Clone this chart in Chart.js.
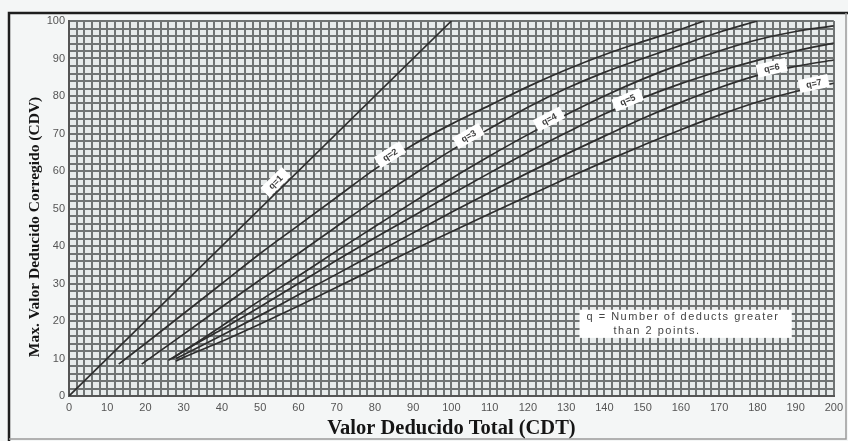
<!DOCTYPE html>
<html>
<head>
<meta charset="utf-8">
<script src="https://cdn.jsdelivr.net/npm/chart.js@4/dist/chart.umd.min.js"></script>
<style>
  html, body { margin: 0; padding: 0; background: #f4f6f6; }
  canvas { display: block; }
</style>
</head>
<body>
<canvas id="c" width="848" height="441"></canvas>
<script>
// ---- Data ----
const q1X = [0, 100];
const q1Y = [0, 100];

const q2X = [13, 20, 30, 40, 50, 60, 70, 80, 90, 100, 110, 120, 130, 140, 150, 160, 166];
const q2Y = [8.5, 14, 22, 30, 38, 45.5, 53, 60.5, 67, 72.5, 77.5, 82.5, 87, 91, 94.5, 97.8, 100];

const q3X = [19, 30, 40, 50, 60, 70, 80, 90, 100, 110, 120, 130, 140, 150, 160, 170, 180];
const q3Y = [8.5, 16.5, 23.8, 31, 38, 45.2, 52.3, 59, 65.5, 71.3, 77, 82, 86.3, 90, 93.5, 97, 100];

const q4X = [26, 30, 40, 50, 60, 70, 80, 90, 100, 110, 120, 130, 140, 150, 160, 170, 180, 190, 200];
const q4Y = [9.5, 12, 18.7, 25.5, 32, 38.7, 45.2, 51.7, 58, 64, 69.7, 75, 80, 84.5, 88.5, 92, 95, 97.2, 98.7];

const q5X = [27, 30, 40, 50, 60, 70, 80, 90, 100, 110, 120, 130, 140, 150, 160, 170, 180, 190, 200];
const q5Y = [10, 12, 17.8, 23.8, 30, 36.2, 42.2, 48, 53.8, 59.5, 65, 70.2, 75.2, 79.5, 83.3, 86.6, 89.5, 92, 94.1];

const q6X = [28, 30, 40, 50, 60, 70, 80, 90, 100, 110, 120, 130, 140, 150, 160, 170, 180, 190, 200];
const q6Y = [10, 11, 16.2, 21.5, 27, 32.5, 38, 43.5, 49, 54.3, 59.5, 64.5, 69.3, 74, 78.3, 82.2, 85.5, 87.9, 89.6];

const q7X = [28, 30, 40, 50, 60, 70, 80, 90, 100, 110, 120, 130, 140, 150, 160, 170, 180, 190, 200];
const q7Y = [9.3, 10.3, 14.6, 19.2, 24, 29, 34, 39, 43.8, 48.6, 53.3, 58, 62.5, 66.8, 71, 74.9, 78.4, 81.2, 83.4];

const seriesNames = ['q=1', 'q=2', 'q=3', 'q=4', 'q=5', 'q=6', 'q=7'];
const labelAtX = [55.5, 84.5, 105, 126, 146.5, 184, 195];   // where each curve's tag sits (TDV)
const labelLift = [8, 4, 4, 4, 4, 4, 4];                    // px above the curve

const xTickStep = 2, yTickStep = 2, labelEvery = 10;
const xTitle = 'Valor Deducido Total (CDT)';
const yTitle = 'Max. Valor Deducido Corregido (CDV)';
const noteLines = ['q = Number of deducts greater', 'than 2 points.'];
const noteBox = { x0: 133.5, x1: 189, y0: 23, y1: 15.5 };

// ---- build datasets ----
const xs = [q1X, q2X, q3X, q4X, q5X, q6X, q7X];
const ys = [q1Y, q2Y, q3Y, q4Y, q5Y, q6Y, q7Y];
const datasets = xs.map((xa, i) => ({
  label: seriesNames[i],
  data: xa.map((x, j) => ({ x: x, y: ys[i][j] })),
  showLine: true,
  borderColor: '#2e2e2e',
  borderWidth: 1.7,
  pointRadius: 0,
  cubicInterpolationMode: 'monotone',
  fill: false
}));

function interpY(xa, ya, x) {
  for (let j = 0; j < xa.length - 1; j++) {
    if (x >= xa[j] && x <= xa[j + 1]) {
      const t = (x - xa[j]) / (xa[j + 1] - xa[j]);
      return ya[j] + t * (ya[j + 1] - ya[j]);
    }
  }
  return ya[ya.length - 1];
}

const bgPlugin = {
  id: 'bg',
  beforeDraw(chart) {
    const { ctx, chartArea: a } = chart;
    ctx.save();
    ctx.fillStyle = '#f4f6f6';
    ctx.fillRect(0, 0, chart.width, chart.height);
    ctx.fillStyle = '#e7ebeb';
    ctx.fillRect(a.left, a.top, a.right - a.left, a.bottom - a.top);
    // outer frame
    ctx.strokeStyle = '#1e1e1e';
    ctx.lineWidth = 2.5;
    ctx.beginPath();
    ctx.moveTo(9, 441); ctx.lineTo(9, 13); ctx.lineTo(848, 13);
    ctx.stroke();
    ctx.strokeStyle = '#9a9a9a';
    ctx.lineWidth = 1.5;
    ctx.beginPath();
    ctx.moveTo(846, 13); ctx.lineTo(846, 439); ctx.lineTo(9, 439);
    ctx.stroke();
    ctx.restore();
  },
  afterDraw(chart) {
    const { ctx, chartArea: a } = chart;
    ctx.save();
    ctx.translate(35, 227);
    ctx.rotate(-Math.PI / 2);
    ctx.fillStyle = '#151515';
    ctx.font = 'bold 15.5px "Liberation Serif", "Times New Roman", serif';
    ctx.textAlign = 'center';
    ctx.textBaseline = 'middle';
    ctx.fillText(yTitle, 0, 0);
    ctx.restore();
  }
};

const tagPlugin = {
  id: 'tags',
  afterDatasetsDraw(chart) {
    const { ctx, scales: { x: sx, y: sy } } = chart;
    ctx.save();
    xs.forEach((xa, i) => {
      const lx = labelAtX[i];
      const ly = interpY(xa, ys[i], lx);
      const px = sx.getPixelForValue(lx), py = sy.getPixelForValue(ly);
      const px2 = sx.getPixelForValue(lx + 2), py2 = sy.getPixelForValue(interpY(xa, ys[i], lx + 2));
      const ang = Math.atan2(py2 - py, px2 - px);
      ctx.translate(px, py);
      ctx.rotate(ang);
      ctx.translate(0, -labelLift[i]);
      ctx.fillStyle = '#ffffff';
      ctx.fillRect(-15, -6.5, 30, 13);
      ctx.fillStyle = '#3a3a3a';
      ctx.font = 'bold 9px "Liberation Sans", Arial, sans-serif';
      ctx.textAlign = 'center';
      ctx.textBaseline = 'middle';
      ctx.fillText(seriesNames[i], 0, 0.5);
      ctx.setTransform(1, 0, 0, 1, 0, 0);
    });
    // note box
    const bx0 = sx.getPixelForValue(noteBox.x0), bx1 = sx.getPixelForValue(noteBox.x1);
    const by0 = sy.getPixelForValue(noteBox.y0), by1 = sy.getPixelForValue(noteBox.y1);
    ctx.fillStyle = '#ffffff';
    ctx.fillRect(bx0, by0, bx1 - bx0, by1 - by0);
    ctx.fillStyle = '#444';
    ctx.font = '11px "Liberation Sans", Arial, sans-serif';
    ctx.letterSpacing = '1.5px';
    ctx.textAlign = 'left';
    ctx.textBaseline = 'middle';
    ctx.fillText(noteLines[0], bx0 + 7, by0 + 7.5);
    ctx.fillText(noteLines[1], bx0 + 34, by0 + 21);
    ctx.restore();
  }
};

const tickFont = { family: '"Liberation Sans", Arial, sans-serif', size: 11 };
const gridOpts = { color: '#707474', lineWidth: 2, drawTicks: false };

new Chart(document.getElementById('c'), {
  type: 'scatter',
  data: { datasets },
  options: {
    responsive: false,
    animation: false,
    events: [],
    layout: { padding: { left: 0, top: 21, right: 10, bottom: 0 } },
    plugins: { legend: { display: false }, tooltip: { enabled: false } },
    scales: {
      x: {
        type: 'linear', min: 0, max: 200,
        grid: gridOpts,
        border: { display: true, color: '#555', width: 2 },
        ticks: {
          stepSize: xTickStep, autoSkip: false, maxTicksLimit: 1000, maxRotation: 0,
          padding: 5, color: '#555', font: tickFont,
          callback: v => (v % labelEvery === 0 ? String(v) : '')
        },
        title: {
          display: true, text: xTitle, color: '#151515',
          font: { family: '"Liberation Serif", "Times New Roman", serif', size: 20.5, weight: 'bold' },
          padding: { top: 0, bottom: 0 }
        },
        afterFit(s) { s.height = 45; }
      },
      y: {
        type: 'linear', min: 0, max: 100,
        grid: gridOpts,
        border: { display: true, color: '#555', width: 2 },
        ticks: {
          stepSize: yTickStep, autoSkip: false, maxTicksLimit: 1000,
          padding: 4, color: '#555', font: tickFont,
          callback: v => (v % labelEvery === 0 ? String(v) : '')
        },
        title: { display: false },
        afterFit(s) { s.width = 69; }
      }
    }
  },
  plugins: [bgPlugin, tagPlugin]
});
</script>
</body>
</html>
